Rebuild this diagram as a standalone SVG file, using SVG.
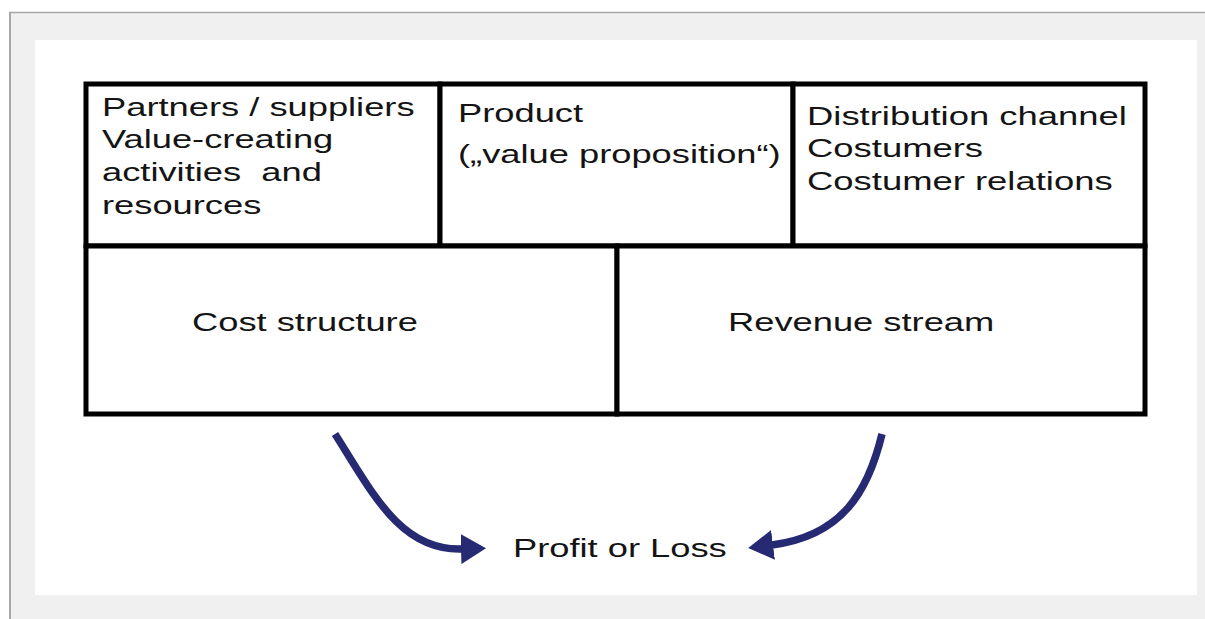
<svg xmlns="http://www.w3.org/2000/svg" width="1205" height="619" viewBox="0 0 1205 619">
<style>
.cell{fill:#fff;stroke:#000;stroke-width:5}
.t{font-family:"Liberation Sans",Arial,sans-serif;font-size:26.5px;fill:#141414;white-space:pre}
.arrow{fill:none;stroke:#262a73;stroke-width:7.5;stroke-linecap:butt}
</style>
<defs>
<marker id="ah" viewBox="0 0 25 30" refX="1" refY="15" markerWidth="25" markerHeight="30" markerUnits="userSpaceOnUse" orient="auto">
<path d="M0,0 L25,15 L0,30 z" fill="#262a73"/>
</marker>
</defs>
<rect x="0" y="0" width="1205" height="619" fill="#fff"/>
<rect x="10" y="12" width="1195" height="607" fill="#f0f0f0"/>
<line x1="9" y1="12.5" x2="1205" y2="12.5" stroke="#a8a8a8" stroke-width="1.5"/>
<line x1="10" y1="12" x2="10" y2="619" stroke="#a8a8a8" stroke-width="2"/>
<rect x="35" y="40" width="1162" height="555" fill="#fff"/>

<g id="partners">
<rect class="cell" x="86" y="84" width="354" height="162"/>
<text class="t" transform="translate(102,116) scale(1.37,1)">Partners / suppliers</text>
<text class="t" transform="translate(102,148) scale(1.37,1)">Value-creating</text>
<text class="t" transform="translate(102,181) scale(1.37,1)">activities  and</text>
<text class="t" transform="translate(102,214) scale(1.37,1)">resources</text>
</g>
<g id="product">
<rect class="cell" x="440" y="84" width="353" height="162"/>
<text class="t" transform="translate(458,122) scale(1.37,1)">Product</text>
<text class="t" transform="translate(458,163) scale(1.37,1)">(„value proposition“)</text>
</g>
<g id="distribution">
<rect class="cell" x="793" y="84" width="352" height="162"/>
<text class="t" transform="translate(807,125) scale(1.375,1)">Distribution channel</text>
<text class="t" transform="translate(807,157) scale(1.375,1)">Costumers</text>
<text class="t" transform="translate(807,190) scale(1.375,1)">Costumer relations</text>
</g>
<g id="cost">
<rect class="cell" x="86" y="246" width="531" height="168"/>
<text class="t" transform="translate(192,331) scale(1.37,1)">Cost structure</text>
</g>
<g id="revenue">
<rect class="cell" x="617" y="246" width="528" height="168"/>
<text class="t" transform="translate(728,331) scale(1.37,1)">Revenue stream</text>
</g>
<g id="result">
<text class="t" transform="translate(513,557) scale(1.37,1)">Profit or Loss</text>
</g>
<g id="connectors">
<path class="arrow" d="M335,434 C372,492 400,551 462,549" marker-end="url(#ah)"/>
<path class="arrow" d="M882,434 C868,492 842,536 772,545" marker-end="url(#ah)"/>
</g>
</svg>
